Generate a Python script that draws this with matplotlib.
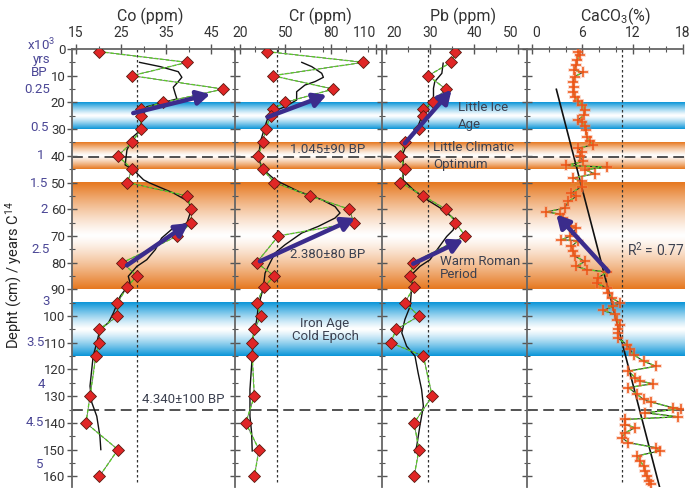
import matplotlib
matplotlib.use("Agg")
import matplotlib.pyplot as plt
import matplotlib.colors as mcolors
import numpy as np
from matplotlib import font_manager
from matplotlib.ticker import MultipleLocator, FixedLocator
from matplotlib.transforms import blended_transform_factory

names = {f.name for f in font_manager.fontManager.ttflist}
base_font = 'Liberation Sans Narrow' if 'Liberation Sans Narrow' in names else 'Roboto'
plt.rcParams['font.family'] = [base_font, 'DejaVu Sans']
plt.rcParams['mathtext.fontset'] = 'custom'
plt.rcParams['mathtext.rm'] = base_font
plt.rcParams['mathtext.default'] = 'rm'

# ---- data ----
depth = [1, 5, 10, 15, 20, 22.5, 25, 30, 35, 40, 45, 50, 55, 60, 65, 70,
         80, 85, 89, 95, 100, 105, 110, 115, 130, 140, 150, 160]
co_val = [20.2, 39.7, 27.4, 47.7, 34.4, 29.4, 29.4, 29.4, 27.4, 24.3, 27.4, 26.4, 39.7, 40.6,
          40.6, 37.5, 25.3, 28.5, 26.4, 24.2, 24.2, 20.2, 20.2, 19.4, 18.1, 17.2, 24.3, 20.2]
cr_val = [38.1, 101.7, 41.6, 81.8, 49.8, 41.6, 40.3, 37.0, 35.0, 32.1, 35.0, 42.7, 66.4, 92.4,
          95.3, 45.4, 31.0, 42.7, 36.1, 31.0, 33.9, 29.5, 28.1, 28.1, 29.5, 23.8, 32.6, 29.5]
pb_val = [35.8, 34.8, 29.6, 33.6, 30.6, 28.5, 28.5, 27.6, 24.3, 23.3, 24.3, 23.3, 28.5, 33.6,
          35.8, 38.0, 26.2, 25.5, 26.4, 24.3, 27.5, 22.3, 21.1, 28.5, 30.5, 26.4, 27.5, 26.4]

co_smooth_depth = [5.0, 6.6, 8.5, 10.6, 12.8, 14.3, 16.6, 18.7, 21.6, 24.0, 30.3, 32.8, 37.8,
                   43.4, 45.2, 49.0, 50.2, 53.9, 57.1, 60.2, 65.2, 67.0, 70.8, 75.1, 78.9, 81.4,
                   85.1, 87.6, 92.6, 98.8, 102.5, 105.0, 110.0, 115.0, 126.2, 132.4, 137.5,
                   145.0, 150.0]
co_smooth_val = [29.1, 33.7, 37.7, 38.5, 37.4, 36.6, 37.0, 37.4, 30.7, 29.6, 29.4, 27.7, 26.3,
                 25.9, 27.7, 30.0, 31.4, 36.6, 40.0, 40.6, 39.6, 36.6, 34.0, 32.6, 30.7, 28.5,
                 26.6, 27.0, 24.8, 23.3, 22.2, 20.3, 19.6, 18.8, 18.1, 18.5, 19.6, 20.3, 20.5]

cr_smooth_depth = [5.0, 6.6, 9.1, 10.6, 12.2, 13.5, 16.0, 19.1, 21.6, 23.4, 25.3, 29.0, 34.0,
                   40.3, 44.6, 49.0, 53.3, 56.4, 59.0, 61.4, 63.3, 66.4, 68.9, 73.3, 76.4, 81.4,
                   83.9, 89.5, 96.4, 101.3, 107.6, 115.0, 127.5, 137.5, 143.7, 150.5]
cr_smooth_val = [60.9, 67.5, 74.1, 75.2, 69.7, 63.0, 57.5, 57.5, 49.8, 42.1, 38.7, 36.6, 33.9,
                 32.1, 34.4, 43.2, 58.6, 74.1, 82.9, 86.2, 82.9, 71.9, 60.9, 49.8, 43.2, 38.7,
                 36.6, 35.4, 32.1, 31.1, 28.8, 28.1, 26.6, 26.6, 27.7, 28.1]

pb_smooth_depth = [5.3, 9.1, 12.2, 14.7, 19.1, 21.6, 25.3, 30.3, 34.0, 39.0, 44.0, 49.0, 52.7,
                   56.4, 60.2, 63.9, 67.7, 70.2, 74.5, 78.9, 81.4, 83.9, 90.1, 96.3, 101.3,
                   106.3, 111.3, 115.0, 121.2, 127.5, 133.7, 141.2, 148.6, 151.1]
pb_smooth_val = [33.0, 32.7, 31.1, 30.8, 30.8, 29.3, 28.1, 27.0, 25.1, 23.9, 23.9, 23.9, 26.2,
                 29.3, 33.0, 35.7, 35.3, 33.8, 31.9, 30.0, 27.7, 26.2, 25.8, 25.5, 24.3, 23.6,
                 24.7, 26.6, 27.3, 28.1, 28.5, 27.7, 27.0, 26.6]

caco3_depth = [1.0, 2.2, 4.1, 6.0, 7.9, 8.7, 10.3, 12.2, 14.1, 16.0,
               17.8, 19.3, 20.9, 22.8, 24.7, 26.5, 27.3, 28.8, 30.5, 32.8,
               34.6, 35.9, 37.1, 38.4, 40.2, 42.1, 43.6, 44.2, 45.2, 46.7,
               48.3, 49.6, 51.5, 54.0, 55.2, 57.1, 59.6, 61.0, 61.8, 63.3,
               66.4, 67.0, 70.2, 71.4, 71.8, 73.9, 75.8, 77.6, 79.5, 81.4,
               82.6, 83.5, 85.7, 87.6, 89.5, 91.3, 93.2, 95.1, 96.3, 97.9,
               99.4, 101.3, 103.2, 105.0, 106.3, 108.2, 110.7, 112.5, 114.4, 116.9,
               118.8, 120.6, 123.1, 124.4, 125.3, 126.8, 129.3, 131.2, 132.2, 134.3,
               134.7, 136.2, 137.7, 138.7, 140.6, 141.8, 143.7, 145.5, 147.4, 149.3,
               150.5, 152.4, 154.3, 156.1, 158.0, 159.9, 161.7, 163.0]
caco3_val = [5.5, 5.7, 5.4, 5.3, 5.0, 6.1, 5.1, 4.9, 5.0, 4.9,
             5.1, 5.5, 6.0, 6.3, 6.2, 5.5, 5.9, 6.3, 6.4, 6.5,
             6.9, 7.3, 5.5, 5.9, 5.7, 6.1, 4.1, 8.9, 6.3, 7.5,
             4.9, 5.9, 5.9, 4.7, 5.3, 4.3, 3.9, 1.7, 3.3, 3.7,
             4.7, 5.3, 4.5, 3.5, 5.5, 4.7, 4.9, 5.1, 6.3, 5.3,
             6.5, 8.9, 7.9, 7.7, 8.9, 9.1, 9.5, 10.5, 9.7, 8.5,
             9.9, 10.1, 10.5, 10.3, 10.3, 10.2, 11.3, 11.7, 12.1, 13.3,
             14.8, 11.5, 12.3, 12.9, 14.4, 11.5, 12.5, 13.3, 14.2, 16.8,
             17.8, 13.5, 17.4, 11.1, 11.1, 12.3, 11.1, 10.7, 11.5, 14.8,
             15.2, 12.5, 12.9, 13.3, 13.5, 13.7, 14.0, 14.2]
caco3_fit_depth = [15.1, 163.9]
caco3_fit_val = [2.9, 15.2]

# trend arrows: ((value, depth) tail, (value, depth) head)
co_arrows = [((27.7, 24.0), (44.8, 16.9)), ((26.3, 81.0), (40.0, 65.2))]
cr_arrows = [((38.3, 25.5), (77.4, 17.2)), ((33.2, 79.5), (96.2, 63.3))]
pb_arrows = [((24.3, 35.3), (34.9, 15.3)), ((26.2, 80.4), (37.6, 71.4))]
caco3_arrows = [((9.1, 83.3), (2.9, 62.0))]

ref_values = {'co': 28.5, 'cr': 44.5, 'pb': 29.5, 'caco3': 10.7}

# climate bands (top, bottom, colour) and dated levels
bands = [(20, 30, '#0a95d8'), (35, 45, '#e6781f'), (50, 90, '#e6781f'), (95, 115, '#0a95d8')]
dated_levels = [40.5, 135]

age_labels = ['0.25', '0.5', '1', '1.5', '2', '2.5', '3', '3.5', '4', '4.5', '5']
age_depths = [15.3, 29.3, 40.0, 50.2, 60.0, 75.0, 94.4, 109.8, 125.6, 140.0, 155.5]
age_right_px = [50, 49, 44, 48, 48, 50, 50, 45, 45, 44, 43]

# ---- layout ----
W, H = 692, 493
TOP, BOT = 49, 487
DMAX = 164
fig = plt.figure(figsize=(W / 100, H / 100), dpi=100)


def px_axes(x0, x1):
    return fig.add_axes([x0 / W, 1 - BOT / H, (x1 - x0) / W, (BOT - TOP) / H])


bg = px_axes(72, 685)
for top, bottom, col in bands:
    t = np.linspace(0, 1, 200)
    f = np.abs(2 * t - 1) ** 1.25
    rgb = np.array(mcolors.to_rgb(col))
    img = (1 - f)[:, None] + f[:, None] * rgb[None, :]
    bg.imshow(img[:, None, :], extent=(0, 1, bottom, top), aspect='auto',
              interpolation='bilinear', zorder=0)
for lev in dated_levels:
    bg.axhline(lev, color='#444444', lw=1.3, dashes=(6, 3), zorder=2)
bg.set_xlim(0, 1)
bg.set_ylim(DMAX, 0)
bg.axis('off')

ax_co = px_axes(72, 235)
ax_cr = px_axes(235, 382)
ax_pb = px_axes(382, 527)
ax_ca = px_axes(527, 683)

panels = [
    (ax_co, (14.1, 50.3), [15, 25, 35, 45], 5, 'Co (ppm)', 0.48),
    (ax_cr, (16.7, 114.0), [20, 50, 80, 110], 15, 'Cr (ppm)', 0.58),
    (ax_pb, (19.1, 52.05), [20, 30, 40, 50], 5, 'Pb (ppm)', 0.56),
    (ax_ca, (-0.6, 18.0), [0, 6, 12, 18], 2, 'CaCO$_3$(%)', 0.57),
]
tick_col = '#333333'
for ax, xlim, majors, minor_step, title, tx in panels:
    ax.set_facecolor('none')
    ax.set_xlim(*xlim)
    ax.set_ylim(DMAX, 0)
    ax.xaxis.tick_top()
    ax.xaxis.set_major_locator(FixedLocator(majors))
    ax.xaxis.set_minor_locator(MultipleLocator(minor_step))
    ax.yaxis.set_major_locator(MultipleLocator(10))
    ax.yaxis.set_minor_locator(MultipleLocator(5))
    ax.tick_params(axis='x', which='major', direction='inout', length=7, width=1,
                   color='#555555', labelsize=10, labelcolor=tick_col, pad=3)
    ax.tick_params(axis='x', which='minor', direction='inout', length=4, width=0.8,
                   color='#555555')
    ax.tick_params(axis='y', which='major', direction='inout', length=7, width=1,
                   color='#555555', labelsize=9.5, labelcolor=tick_col, pad=1)
    ax.tick_params(axis='y', which='minor', direction='inout', length=4, width=0.8,
                   color='#555555')
    if ax is not ax_co:
        ax.tick_params(axis='y', labelleft=False)
    for s in ['right', 'bottom']:
        ax.spines[s].set_visible(False)
    for s in ['left', 'top']:
        ax.spines[s].set_color('#666666')
        ax.spines[s].set_linewidth(1.3)
    ax.text(tx, 1.075, title, transform=ax.transAxes, ha='center', va='center',
            fontsize=11.5, color=tick_col)

# keep the crowded top labels apart, as in the original
ax_cr.get_xticklabels()[-1].set_ha('right')
ax_pb.get_xticklabels()[0].set_ha('left')
ax_pb.get_xticklabels()[-1].set_ha('right')
ax_ca.get_xticklabels()[0].set_ha('left')

# element profiles
series = [
    (ax_co, co_val, co_smooth_depth, co_smooth_val, co_arrows, 'co'),
    (ax_cr, cr_val, cr_smooth_depth, cr_smooth_val, cr_arrows, 'cr'),
    (ax_pb, pb_val, pb_smooth_depth, pb_smooth_val, pb_arrows, 'pb'),
]
arrow_col = '#3b2c8c'
for ax, vals, sd, sv, arrows, key in series:
    ax.axvline(ref_values[key], ymin=0.012, ymax=1, color='#333333', lw=0.9,
               dashes=(2, 2), zorder=3)
    ax.plot(sv, sd, color='#111111', lw=1.0, zorder=4)
    ax.plot(vals, depth, color='#444444', lw=0.5, zorder=5)
    ax.plot(vals, depth, color='#5ccc2a', lw=1.0, dashes=(2.5, 1.5), zorder=5)
    ax.plot(vals, depth, ls='none', marker='D', ms=6.5, mfc='#e02626',
            mec='#5a1a10', mew=0.6, zorder=6)
    for tail, head in arrows:
        ax.annotate('', xy=head, xytext=tail,
                    arrowprops=dict(arrowstyle='-|>,head_length=0.55,head_width=0.3',
                                    lw=3.2, color=arrow_col, shrinkA=0, shrinkB=0,
                                    mutation_scale=14), zorder=7)

# CaCO3 profile
ax_ca.axvline(ref_values['caco3'], ymin=0.012, ymax=1, color='#333333', lw=0.9,
              dashes=(2, 2), zorder=3)
ax_ca.plot(caco3_fit_val, caco3_fit_depth, color='#111111', lw=1.2, zorder=4)
ax_ca.plot(caco3_val, caco3_depth, color='#222222', lw=0.8, zorder=5)
ax_ca.plot(caco3_val, caco3_depth, color='#5ccc2a', lw=1.0, dashes=(2.5, 1.5), zorder=5)
ax_ca.plot(caco3_val, caco3_depth, ls='none', marker='+', ms=8, mew=2.6,
           color='#f58a60', alpha=0.3, zorder=6)
ax_ca.plot(caco3_val, caco3_depth, ls='none', marker='+', ms=6.5, mew=1.1,
           color='#ee5517', zorder=6)
for tail, head in caco3_arrows:
    ax_ca.annotate('', xy=head, xytext=tail,
                   arrowprops=dict(arrowstyle='-|>,head_length=0.55,head_width=0.3',
                                   lw=3.2, color=arrow_col, shrinkA=0, shrinkB=0,
                                   mutation_scale=14), zorder=7)
ax_ca.text(11.3, 75.1, 'R$^2$ = 0.77', fontsize=10, color='#3c4150', ha='left',
           va='center', zorder=8)

# annotations
ann = dict(fontsize=9.5, color='#3c4150', zorder=8)
ax_co.text(29.7, 131.2, '4.340\u00b1100 BP', ha='left', va='center', **ann)
ax_cr.text(78.3, 37.8, '1.045\u00b190 BP', ha='center', va='center', **ann)
ax_cr.text(78.0, 77.0, '2.380\u00b180 BP', ha='center', va='center', **ann)
ax_cr.text(76.3, 102.6, 'Iron Age', ha='center', va='center', **ann)
ax_cr.text(76.3, 107.8, 'Cold Epoch', ha='center', va='center', **ann)
ax_pb.text(36.4, 22.0, 'Little Ice', ha='left', va='center', **ann)
ax_pb.text(36.4, 28.4, 'Age', ha='left', va='center', **ann)
ax_pb.text(30.7, 37.0, 'Little Climatic', ha='left', va='center', **ann)
ax_pb.text(30.7, 43.4, 'Optimum', ha='left', va='center', **ann)
ax_pb.text(32.3, 79.6, 'Warm Roman', ha='left', va='center', **ann)
ax_pb.text(32.3, 84.5, 'Period', ha='left', va='center', **ann)

# age scale on the left
age_col = '#4b4796'
trans = blended_transform_factory(fig.transFigure, ax_co.transData)
for lab, d, xr in zip(age_labels, age_depths, age_right_px):
    fig.text(xr / W, d, lab, transform=trans, ha='right', va='center',
             fontsize=9.5, color=age_col)
fig.text(55 / W, -1.6, 'x10$^3$', transform=trans, ha='right', va='center',
         fontsize=9.5, color=age_col)
fig.text(50 / W, 3.9, 'yrs', transform=trans, ha='right', va='center',
         fontsize=9.5, color=age_col)
fig.text(48 / W, 8.8, 'BP', transform=trans, ha='right', va='center',
         fontsize=9.5, color=age_col)

fig.text(14 / W, 1 - 275 / H, 'Depht (cm) / years C$^{14}$', rotation=90,
         ha='center', va='center', fontsize=10.5, color='#222222')

fig.savefig('out.png', dpi=100)
